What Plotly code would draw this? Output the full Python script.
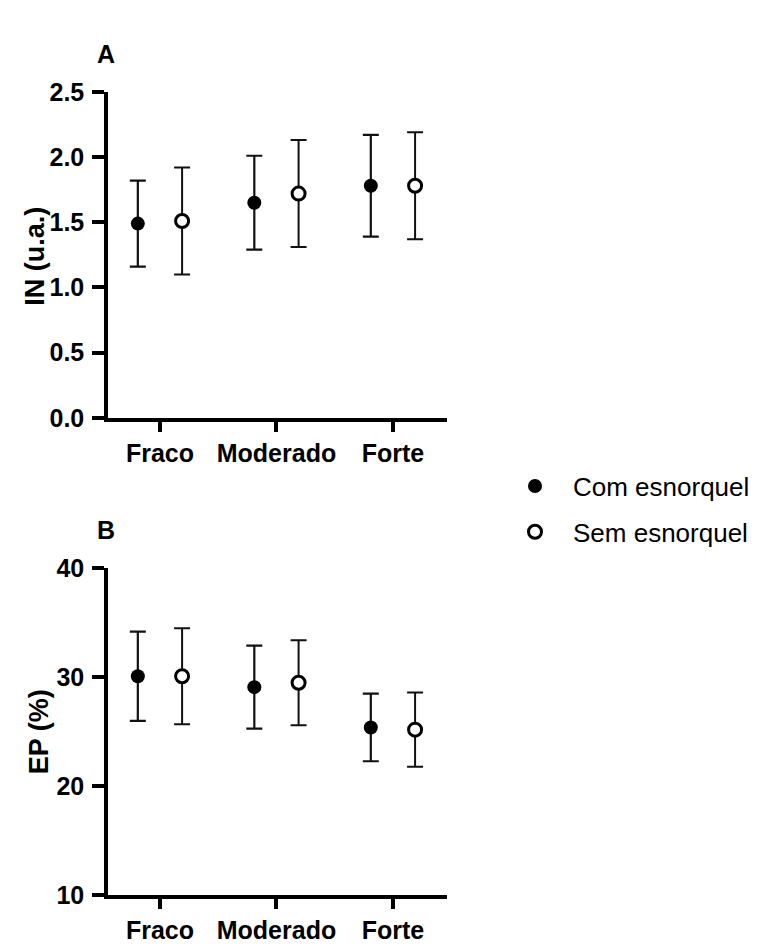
import plotly.graph_objects as go

categories = ["Fraco", "Moderado", "Forte"]
series_names = ["Com esnorquel", "Sem esnorquel"]

# Panel A: IN (u.a.) - mean and SD
in_com_mean = [1.49, 1.65, 1.78]
in_com_sd = [0.33, 0.36, 0.39]
in_sem_mean = [1.51, 1.72, 1.78]
in_sem_sd = [0.41, 0.41, 0.41]

# Panel B: EP (%) - mean and SD
ep_com_mean = [30.1, 29.1, 25.4]
ep_com_sd = [4.1, 3.8, 3.1]
ep_sem_mean = [30.1, 29.5, 25.2]
ep_sem_sd = [4.4, 3.9, 3.4]

in_ticks = [0.0, 0.5, 1.0, 1.5, 2.0, 2.5]
ep_ticks = [10, 20, 30, 40]

W, H = 760, 945
FONT = "Liberation Sans"
offset = 0.19
xpos = list(range(len(categories)))
x_com = [x - offset for x in xpos]
x_sem = [x + offset for x in xpos]

fig = go.Figure()

def add_pair(xa, ya, com_m, com_s, sem_m, sem_s, show):
    fig.add_trace(go.Scatter(
        x=x_com, y=com_m, mode="markers", name=series_names[0],
        xaxis=xa, yaxis=ya, showlegend=show, legendgroup="com",
        marker=dict(symbol="circle", size=14, color="black",
                    line=dict(color="black", width=0)),
        error_y=dict(type="data", array=com_s, visible=True,
                     color="#111111", thickness=2.2, width=8),
        cliponaxis=False,
    ))
    fig.add_trace(go.Scatter(
        x=x_sem, y=sem_m, mode="markers", name=series_names[1],
        xaxis=xa, yaxis=ya, showlegend=show, legendgroup="sem",
        marker=dict(symbol="circle", size=13, color="white",
                    line=dict(color="black", width=3)),
        error_y=dict(type="data", array=sem_s, visible=True,
                     color="#111111", thickness=2, width=8),
        cliponaxis=False,
    ))

add_pair("x", "y", in_com_mean, in_com_sd, in_sem_mean, in_sem_sd, True)
add_pair("x2", "y2", ep_com_mean, ep_com_sd, ep_sem_mean, ep_sem_sd, False)

xdom = [100 / W, 439 / W]
xrange_ = [-0.446, 2.464]
tickfont = dict(family=FONT, size=25, color="black", weight="bold")
axis_common = dict(showline=True, linecolor="black", linewidth=3.5,
                   ticks="outside", tickwidth=3.5, tickcolor="black",
                   showgrid=False, zeroline=False, tickfont=tickfont)

fig.update_layout(
    width=W, height=H,
    margin=dict(l=0, r=0, t=0, b=0),
    plot_bgcolor="white", paper_bgcolor="white",
    font=dict(family=FONT, color="black"),
    xaxis=dict(domain=xdom, range=xrange_, anchor="y", ticklen=10, ticklabelstandoff=0,
               tickmode="array", tickvals=xpos, ticktext=categories, **axis_common),
    yaxis=dict(domain=[1 - 408 / H, 1 - 72 / H], range=[0, 2.5], anchor="x",
               ticklen=12, ticklabelstandoff=3, tickmode="array", tickvals=in_ticks,
               ticktext=[f"{v:.1f}" for v in in_ticks], **axis_common),
    xaxis2=dict(domain=xdom, range=xrange_, anchor="y2", ticklen=10, ticklabelstandoff=0,
                tickmode="array", tickvals=xpos, ticktext=categories, **axis_common),
    yaxis2=dict(domain=[1 - 900 / H, 1 - 563 / H], range=[10, 40], anchor="x2",
                ticklen=12, ticklabelstandoff=3, tickmode="array", tickvals=ep_ticks,
                ticktext=[str(v) for v in ep_ticks], **axis_common),
    legend=dict(x=489 / W, y=1 - 454 / H, xanchor="left", yanchor="top",
                font=dict(family=FONT, size=26, color="black"),
                tracegroupgap=9, bgcolor="rgba(0,0,0,0)", itemwidth=66),
    annotations=[
        dict(text="<b>A</b>", x=98 / W, y=1 - 33 / H, xref="paper", yref="paper",
             xanchor="center", yanchor="middle",
             showarrow=False, font=dict(family=FONT, size=25, color="black")),
        dict(text="<b>B</b>", x=98 / W, y=1 - 523 / H, xref="paper", yref="paper",
             xanchor="center", yanchor="middle",
             showarrow=False, font=dict(family=FONT, size=25, color="black")),
        dict(text="<b>IN (u.a.)</b>", x=27 / W, y=1 - 242 / H, xref="paper", yref="paper",
             xanchor="center", yanchor="middle",
             showarrow=False, textangle=-90, font=dict(family=FONT, size=27, color="black")),
        dict(text="<b>EP (%)</b>", x=31 / W, y=1 - 732 / H, xref="paper", yref="paper",
             xanchor="center", yanchor="middle",
             showarrow=False, textangle=-90, font=dict(family=FONT, size=27, color="black")),
    ],
)

fig.write_html("out.html")
